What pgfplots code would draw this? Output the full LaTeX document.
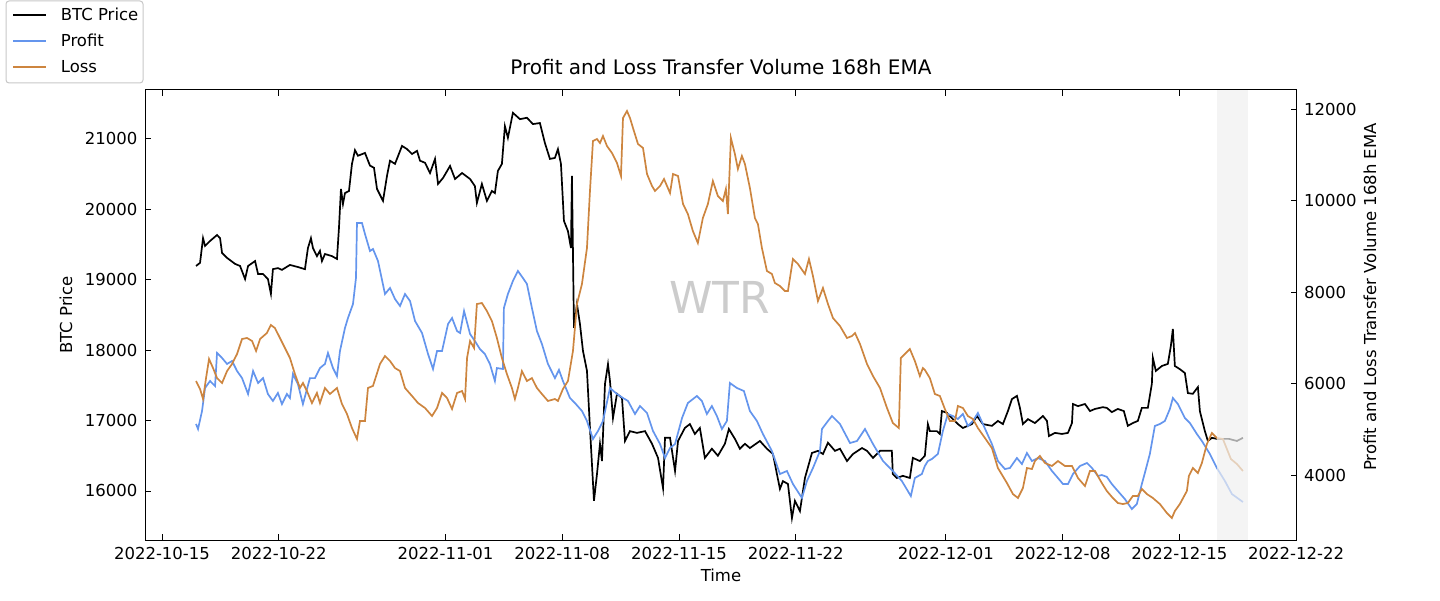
\documentclass[border=0pt]{standalone}
\usepackage{fontspec}
\setmainfont{DejaVu Sans}
\usepackage{pgfplots}
\pgfplotsset{compat=1.18}
\definecolor{cblue}{RGB}{100,149,237}
\definecolor{cperu}{RGB}{205,133,63}
\newcommand{\tf}{\fontsize{16.5}{19.8}\selectfont}

\begin{document}
\begin{tikzpicture}
\path[use as bounding box] (0pt,0pt) rectangle (1440pt,600pt);
\pgfplotsset{
  myax/.style={
    at={(145pt,60pt)}, anchor=south west,
    width=1152pt, height=450pt, scale only axis,
    xmin=-1.02, xmax=68.05,
    scaled y ticks=false, scaled x ticks=false,
    tick align=inside,
    major tick length=6pt,
    tick style={line width=0.8pt, black},
    axis line style={line width=1pt},
    tick label style={font=\tf},
    label style={font=\tf},
  }
}
\begin{axis}[myax,
  ymin=15304, ymax=21694,
  xtick={0,7,17,24,31,38,47,54,61,68},
  xticklabels={2022-10-15,2022-10-22,2022-11-01,2022-11-08,2022-11-15,2022-11-22,2022-12-01,2022-12-08,2022-12-15,2022-12-22},
  xticklabel style={anchor=base, inner sep=0pt, yshift=-19pt},
  ytick={16000,17000,18000,19000,20000,21000},
  yticklabels={16000,17000,18000,19000,20000,21000},
  yticklabel style={anchor=east, inner sep=0pt, xshift=-7.5pt},
  ytick pos=left,
  xlabel={Time},
  xlabel style={at={(axis description cs:0.5,-0.0778)}, anchor=center},
  ylabel={BTC Price},
  ylabel style={at={(axis description cs:-0.0686,0.5)}, anchor=center},
  title={Profit and Loss Transfer Volume 168h EMA},
  title style={at={(axis description cs:0.5,1)}, anchor=base, yshift=9pt, font=\fontsize{20}{24}\selectfont},
]
\node[text=black!20, font=\fontsize{44}{50}\selectfont] at (axis description cs:0.499,0.54) {WTR};
\addplot[black, line width=1.7pt] table {
x y
2.04 19195
2.28 19240
2.46 19590
2.58 19480
2.88 19550
3.30 19635
3.48 19590
3.60 19380
3.90 19310
4.38 19225
4.68 19195
4.98 19010
5.16 19195
5.58 19265
5.76 19080
6.06 19080
6.35 19010
6.53 18800
6.65 19150
6.95 19165
7.19 19140
7.67 19210
8.15 19180
8.57 19150
8.75 19450
8.93 19590
9.05 19450
9.29 19335
9.47 19410
9.59 19265
9.77 19365
10.19 19335
10.49 19295
10.61 19735
10.73 20290
10.85 20075
10.97 20230
11.21 20260
11.39 20645
11.57 20840
11.75 20760
12.17 20800
12.47 20620
12.71 20590
12.89 20290
13.25 20120
13.49 20475
13.67 20690
13.97 20645
14.39 20900
14.69 20855
14.99 20785
15.29 20830
15.47 20690
15.77 20660
16.07 20515
16.37 20715
16.55 20360
16.85 20445
17.27 20615
17.57 20430
17.99 20515
18.47 20430
18.76 20330
18.88 20090
19.18 20360
19.48 20120
19.78 20260
19.96 20230
20.14 20545
20.38 20645
20.56 21180
20.74 21015
21.04 21370
21.46 21280
21.88 21300
22.24 21210
22.66 21225
22.96 20940
23.26 20715
23.56 20730
23.74 20855
23.92 20645
24.10 19835
24.34 19690
24.52 19450
24.58 20475
24.70 18315
24.88 18655
25.06 18370
25.24 17990
25.48 17705
25.66 16895
25.90 15860
26.08 16240
26.26 16670
26.38 16425
26.56 17520
26.74 17800
26.86 17560
27.04 17035
27.28 17380
27.58 17320
27.76 16710
28.06 16850
28.48 16825
28.96 16850
29.38 16670
29.74 16470
30.04 16040
30.16 16755
30.46 16755
30.76 16285
30.94 16710
31.35 16895
31.65 16950
31.95 16810
32.25 16895
32.55 16470
32.97 16600
33.33 16500
33.75 16670
33.99 16880
34.35 16740
34.65 16600
34.95 16670
35.25 16610
35.85 16710
36.27 16600
36.63 16525
36.87 16240
37.05 16030
37.23 16140
37.53 16100
37.77 15615
37.95 15860
38.25 15715
38.55 16185
38.97 16540
39.33 16570
39.63 16525
39.93 16685
40.35 16570
40.65 16600
41.07 16425
41.43 16525
41.97 16610
42.27 16570
42.63 16470
43.05 16570
43.76 16570
43.82 16240
44.06 16185
44.42 16215
44.84 16185
45.02 16470
45.44 16425
45.74 16500
45.92 16950
46.04 16850
46.46 16850
46.64 16810
46.76 17135
47.06 17110
47.36 17035
47.72 16950
48.02 16895
48.56 16950
48.86 17065
49.22 16950
49.76 16925
50.12 16995
50.42 16950
50.72 17135
50.96 17305
51.26 17350
51.44 17180
51.62 16950
51.92 17020
52.34 16965
52.82 17065
53.06 16995
53.18 16780
53.54 16825
53.96 16810
54.32 16825
54.56 16965
54.62 17235
54.92 17205
55.34 17235
55.64 17135
55.94 17165
56.41 17190
56.65 17180
56.95 17120
57.31 17165
57.67 17135
57.91 16925
58.21 16965
58.51 16995
58.75 17180
59.11 17180
59.35 17520
59.41 17890
59.59 17705
59.95 17775
60.31 17805
60.49 18060
60.61 18300
60.73 17775
61.03 17730
61.33 17675
61.51 17390
61.81 17380
62.11 17475
62.23 17135
62.53 16850
62.71 16710
62.95 16755
63.25 16740
63.61 16740
63.97 16740
64.45 16710
64.81 16755
};
\end{axis}
\begin{axis}[myax,
  ymin=2578, ymax=12424,
  axis x line=none,
  axis y line*=right,
  ytick={4000,6000,8000,10000,12000},
  yticklabels={4000,6000,8000,10000,12000},
  yticklabel style={anchor=west, inner sep=0pt, xshift=7pt},
  ylabel={Profit and Loss Transfer Volume 168h EMA},
  ylabel style={at={(axis description cs:1.0634,0.54)}, anchor=center},
  legend style={at={(axis description cs:-0.1207,1.1978)}, anchor=north west,
    draw=none, fill=none, font=\tf,
    inner xsep=6pt, inner ysep=7pt, row sep=12pt,
    nodes={inner sep=0pt},
    /tikz/every odd column/.append style={column sep=14pt}},
  legend cell align=left,
  legend image code/.code={\draw[#1, line width=1.7pt] (0pt,0pt) -- (33pt,0pt);},
]
\addlegendimage{black}
\addlegendentry{BTC Price}
\addplot[cblue, line width=1.7pt] table {
x y
2.04 5116
2.16 5006
2.40 5400
2.58 5904
2.88 6057
3.18 5947
3.30 6670
3.60 6560
3.90 6430
4.20 6495
4.50 6275
4.80 6120
5.16 5772
5.46 6275
5.76 6013
6.06 6120
6.35 5772
6.65 5620
6.95 5795
7.19 5553
7.49 5772
7.67 5685
7.85 6210
8.15 5990
8.45 5553
8.87 6120
9.17 6120
9.47 6340
9.77 6430
9.95 6670
10.25 6340
10.49 6165
10.67 6713
10.97 7216
11.15 7435
11.45 7740
11.63 8310
11.69 9514
11.99 9514
12.17 9273
12.47 8900
12.65 8945
12.95 8682
13.37 7960
13.67 8092
13.97 7851
14.27 7698
14.57 7960
14.87 7807
15.17 7370
15.59 7107
15.95 6648
16.25 6320
16.49 6713
16.79 6713
17.15 7304
17.39 7435
17.69 7150
17.87 7107
18.11 7588
18.47 7085
18.76 6932
19.06 6757
19.36 6648
19.66 6430
19.96 6057
20.08 6340
20.44 6320
20.50 7654
20.74 7960
21.04 8245
21.34 8464
21.64 8310
21.88 8180
22.18 7654
22.48 7150
22.78 6866
23.14 6430
23.56 6120
23.80 6300
24.04 6057
24.46 5685
24.76 5575
25.18 5400
25.48 5182
25.84 4788
26.14 4963
26.44 5182
26.86 5904
27.28 5772
27.64 5685
27.94 5620
28.36 5335
28.66 5510
29.08 5357
29.44 4963
29.86 4678
30.16 4372
30.46 4590
30.76 4678
31.18 5247
31.53 5575
32.07 5729
32.37 5620
32.67 5335
32.97 5510
33.27 5291
33.57 5006
33.87 5182
34.05 6013
34.47 5904
34.89 5838
35.25 5400
35.67 5182
36.03 4897
36.57 4525
37.05 4022
37.47 4088
37.83 3803
38.37 3497
38.67 3869
39.03 4153
39.45 4525
39.57 5006
39.93 5182
40.17 5291
40.65 5116
41.25 4700
41.67 4744
42.15 5006
42.63 4678
43.23 4306
43.82 4088
44.36 3869
44.90 3540
45.14 3934
45.56 4022
45.74 4197
45.92 4306
46.16 4350
46.52 4460
46.82 4963
47.12 5335
47.42 5291
47.72 5225
48.02 5335
48.32 5072
48.62 5182
48.92 5357
49.22 5116
49.76 4678
50.12 4306
50.54 4131
50.84 4153
51.26 4372
51.56 4241
51.86 4481
52.16 4306
52.52 4372
52.94 4306
53.36 4088
53.72 3934
54.02 3803
54.32 3803
54.62 4022
55.04 4197
55.46 4263
55.76 4153
56.12 3978
56.35 4000
56.65 3960
56.95 3803
57.31 3650
57.73 3475
58.15 3256
58.45 3365
58.75 3803
58.93 4044
59.23 4460
59.53 5072
59.83 5116
60.13 5182
60.43 5444
60.61 5685
60.91 5553
61.33 5247
61.63 5138
62.05 4897
62.35 4744
62.83 4460
63.25 4153
63.73 3869
64.15 3584
64.81 3409
};
\addlegendentry{Profit}
\addplot[cperu, line width=1.7pt] table {
x y
2.04 6057
2.28 5882
2.46 5663
2.64 6120
2.82 6538
3.06 6340
3.30 6120
3.60 6013
3.90 6275
4.20 6430
4.50 6648
4.80 6976
5.10 6998
5.40 6932
5.64 6713
5.88 6976
6.29 7107
6.53 7282
6.77 7216
7.07 6998
7.37 6779
7.67 6560
7.97 6210
8.27 5904
8.45 6013
8.69 5838
8.99 5575
9.29 5795
9.47 5575
9.77 5904
10.07 5772
10.49 5904
10.79 5553
11.09 5335
11.39 5028
11.69 4788
11.87 5182
12.17 5182
12.35 5904
12.65 5950
13.07 6430
13.37 6604
13.67 6495
13.97 6340
14.27 6275
14.57 5904
14.99 5729
15.35 5575
15.77 5466
16.19 5291
16.49 5466
16.79 5795
17.09 5685
17.39 5444
17.69 5795
17.99 5838
18.17 5663
18.29 6560
18.47 6932
18.71 6779
18.88 7741
19.18 7763
19.48 7588
19.78 7370
20.08 6998
20.38 6560
20.68 6210
20.98 5904
21.16 5663
21.34 5904
21.58 6275
21.88 6057
22.18 6120
22.48 5904
22.78 5772
23.14 5620
23.56 5663
23.74 5620
24.04 5882
24.34 6057
24.64 6713
24.88 7741
25.18 8180
25.48 8967
25.66 10214
25.84 11308
26.08 11352
26.26 11264
26.44 11417
26.68 11198
26.98 11045
27.28 10826
27.52 10542
27.64 11811
27.88 11964
28.06 11811
28.24 11592
28.54 11242
28.84 11155
29.08 10586
29.38 10323
29.56 10214
29.86 10323
30.10 10476
30.46 10170
30.64 10586
30.94 10542
31.24 9929
31.53 9711
31.83 9339
32.13 9076
32.43 9623
32.73 9929
33.03 10433
33.33 10104
33.63 9995
33.81 10258
33.93 9711
34.11 11374
34.35 11023
34.53 10695
34.77 10980
34.95 10805
35.25 10280
35.55 9623
35.73 9492
35.97 8967
36.27 8464
36.57 8398
36.75 8201
37.05 8135
37.35 8026
37.53 8026
37.83 8726
38.13 8617
38.55 8398
38.79 8726
39.03 8354
39.33 7807
39.63 8092
39.93 7741
40.23 7435
40.65 7260
41.07 6998
41.37 7041
41.55 7107
41.85 6866
42.27 6430
42.63 6165
43.05 5904
43.47 5466
43.82 5138
44.18 5028
44.30 6560
44.54 6648
44.84 6757
45.14 6495
45.44 6165
45.62 6340
45.74 6300
46.04 6120
46.34 5772
46.64 5729
46.94 5444
47.24 5182
47.54 5182
47.72 5510
48.02 5466
48.32 5291
48.62 5225
48.92 5028
49.34 4810
49.76 4590
50.12 4153
50.66 3825
51.02 3584
51.32 3497
51.62 3716
51.86 4153
52.16 4131
52.34 4306
52.64 4416
52.94 4263
53.36 4197
53.72 4306
54.14 4197
54.56 4197
54.92 3934
55.34 3759
55.64 4088
55.94 4088
56.35 3825
56.65 3650
57.01 3497
57.31 3387
57.61 3365
57.91 3387
58.21 3540
58.51 3540
58.75 3694
59.05 3584
59.41 3497
59.83 3365
60.25 3169
60.55 3059
60.73 3212
61.03 3365
61.45 3650
61.57 3978
61.81 4153
62.11 4044
62.35 4263
62.65 4678
62.95 4919
63.25 4810
63.61 4788
64.09 4350
64.45 4241
64.81 4088
};
\addlegendentry{Loss}
\fill[black!6, opacity=0.7] (axis cs:63.25,2578) rectangle (axis cs:65.11,12424);
\end{axis}
\draw[black!22, line width=1pt, rounded corners=3pt] (6pt,517pt) rectangle (143pt,599pt);
\end{tikzpicture}
\end{document}
